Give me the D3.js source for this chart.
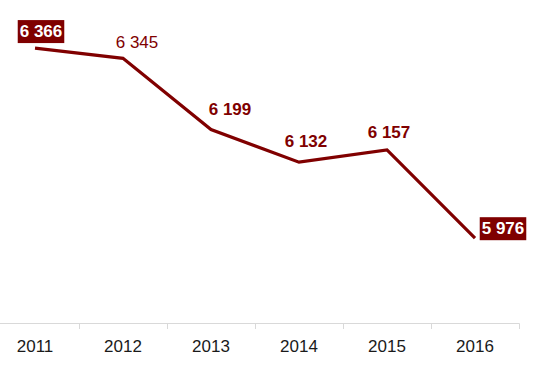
<!DOCTYPE html>
<html>
<head>
<meta charset="utf-8">
<script src="https://cdn.jsdelivr.net/npm/d3@7"></script>
<style>
  html, body { margin: 0; padding: 0; background: #fff; }
  svg { display: block; font-family: "Liberation Sans", Arial, sans-serif; }
</style>
</head>
<body>
<svg id="chart" width="538" height="365"></svg>
<script>
const years = ["2011", "2012", "2013", "2014", "2015", "2016"];
const values = [6366, 6345, 6199, 6132, 6157, 5976];
const labelTexts = ["6 366", "6 345", "6 199", "6 132", "6 157", "5 976"];

// presentation (not data)
const labelStyle = ["box", "plain", "bold", "bold", "bold", "box"];
const labelOffset = [[6, -11], [14, -10], [19, -14], [7, -15], [2, -12], [28, -4]];

const color = "#800000";
const svg = d3.select("#chart");

const x = d3.scaleBand().domain(years).range([-9, 519]).padding(0);
const y = d3.scaleLinear().domain([5800, 6400]).range([324, 31.5]);

const cx = d => x(d) + x.bandwidth() / 2;

// axis
const axis = svg.append("g").attr("transform", "translate(0,323.5)")
  .call(d3.axisBottom(x).tickSize(0).tickSizeOuter(0).tickPadding(0));
axis.select(".domain").remove();
axis.selectAll("text").remove();
svg.append("line").attr("x1", 0).attr("x2", 519.5).attr("y1", 323.5).attr("y2", 323.5)
  .attr("stroke", "#d9d9d9").attr("stroke-width", 1);
const bounds = years.map(d => x(d)).concat([x(years[years.length - 1]) + x.bandwidth()]).slice(1);
svg.selectAll("line.tick").data(bounds).enter().append("line")
  .attr("class", "tick")
  .attr("x1", d => Math.round(d) + 0.5).attr("x2", d => Math.round(d) + 0.5)
  .attr("y1", 323.5).attr("y2", 329)
  .attr("stroke", "#d9d9d9").attr("stroke-width", 1);
svg.selectAll("text.year").data(years).enter().append("text")
  .attr("class", "year")
  .attr("x", d => cx(d)).attr("y", 352)
  .attr("text-anchor", "middle")
  .attr("font-size", 17).attr("fill", "#1a1a1a")
  .text(d => d);

// line
const line = d3.line().x((d, i) => cx(years[i])).y(d => y(d));
svg.append("path").datum(values)
  .attr("d", line)
  .attr("fill", "none").attr("stroke", color).attr("stroke-width", 3.2)
  .attr("stroke-linejoin", "miter");

// labels
values.forEach((v, i) => {
  const lx = cx(years[i]) + labelOffset[i][0];
  const ly = y(v) + labelOffset[i][1];
  const st = labelStyle[i];
  const t = svg.append("text")
    .attr("x", lx).attr("y", ly)
    .attr("text-anchor", "middle")
    .attr("font-size", 17)
    .attr("font-weight", st === "plain" ? "normal" : "bold")
    .attr("fill", st === "box" ? "#fff" : color)
    .text(labelTexts[i]);
  if (st === "box") {
    const bb = t.node().getBBox();
    svg.insert("rect", () => t.node())
      .attr("x", bb.x - 2).attr("y", ly - 17)
      .attr("width", bb.width + 4).attr("height", 23)
      .attr("fill", "#7f0000");
  }
});
</script>
</body>
</html>
